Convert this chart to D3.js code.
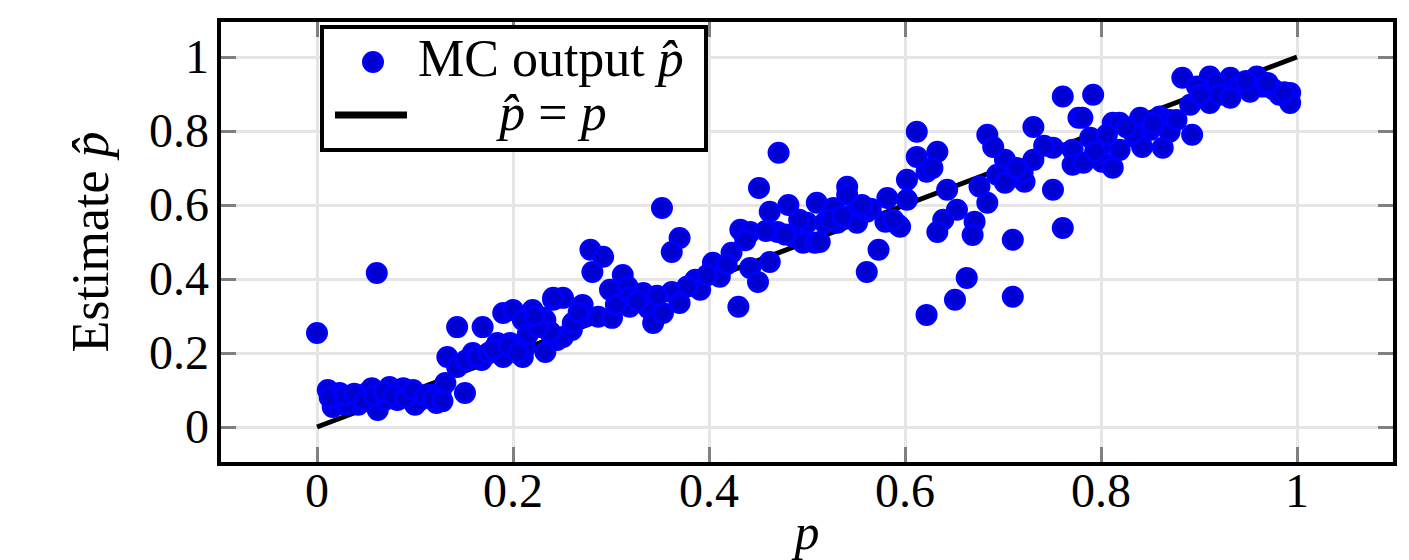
<!DOCTYPE html>
<html>
<head>
<meta charset="utf-8">
<script src="https://cdn.jsdelivr.net/npm/d3@7"></script>
<style>
  body { margin: 0; background: #fff; }
  text { font-family: 'Liberation Serif', 'DejaVu Serif', serif; fill: #000; }
</style>
</head>
<body>
<div id="my_dataviz"></div>
<script>
// MC estimates: true p and estimate p-hat
const pValues = [
  0.000, 0.061, 0.011, 0.016, 0.023, 0.034, 0.051, 0.062, 0.074, 0.082,
  0.095, 0.105, 0.122, 0.126, 0.042, 0.029, 0.131, 0.151, 0.133, 0.143,
  0.159, 0.168, 0.143, 0.169, 0.184, 0.190, 0.204, 0.210, 0.190, 0.200,
  0.220, 0.231, 0.210, 0.241, 0.233, 0.245, 0.212, 0.197, 0.238, 0.251,
  0.260, 0.273, 0.271, 0.251, 0.241, 0.231, 0.287, 0.279, 0.292, 0.281,
  0.299, 0.312, 0.317, 0.333, 0.322, 0.338, 0.343, 0.353, 0.301, 0.352,
  0.370, 0.362, 0.362, 0.370, 0.386, 0.391, 0.404, 0.411, 0.423, 0.432,
  0.430, 0.442, 0.442, 0.450, 0.451, 0.471, 0.462, 0.481, 0.470, 0.486,
  0.462, 0.496, 0.508, 0.500, 0.510, 0.513, 0.518, 0.527, 0.531, 0.541,
  0.541, 0.549, 0.551, 0.561, 0.573, 0.561, 0.580, 0.582, 0.593, 0.602,
  0.602, 0.612, 0.612, 0.622, 0.633, 0.639, 0.643, 0.653, 0.633, 0.671,
  0.669, 0.684, 0.684, 0.690, 0.702, 0.694, 0.702, 0.722, 0.720, 0.731,
  0.731, 0.751, 0.751, 0.771, 0.771, 0.761, 0.777, 0.761, 0.710, 0.622,
  0.651, 0.663, 0.710, 0.595, 0.792, 0.781, 0.812, 0.840, 0.860, 0.870,
  0.870, 0.850, 0.835, 0.893, 0.863, 0.842, 0.801, 0.789, 0.782, 0.801,
  0.812, 0.883, 0.911, 0.932, 0.959, 0.898, 0.918, 0.942, 0.965, 0.976,
  0.993, 0.993, 0.891, 0.911, 0.819, 0.833, 0.018, 0.046, 0.069, 0.088,
  0.100, 0.115, 0.056, 0.921, 0.952, 0.982, 0.901, 0.932, 0.819, 0.794,
  0.233, 0.238, 0.261, 0.319, 0.319, 0.437, 0.478, 0.524, 0.565, 0.628,
  0.013, 0.028, 0.038, 0.048, 0.058, 0.068, 0.078, 0.090, 0.098, 0.110,
  0.118, 0.128, 0.152, 0.163, 0.175, 0.180, 0.195, 0.205, 0.215, 0.225,
  0.222, 0.267, 0.305, 0.327, 0.347, 0.378, 0.398, 0.418, 0.458, 0.492,
  0.536, 0.556, 0.588, 0.676, 0.714, 0.742, 0.806, 0.826, 0.853, 0.877,
  0.948, 0.970, 0.987
];
const estValues = [
  0.254, 0.416, 0.100, 0.054, 0.092, 0.073, 0.092, 0.046, 0.108, 0.073,
  0.092, 0.073, 0.065, 0.092, 0.060, 0.060, 0.119, 0.092, 0.189, 0.162,
  0.200, 0.181, 0.270, 0.270, 0.227, 0.189, 0.216, 0.189, 0.308, 0.316,
  0.316, 0.289, 0.289, 0.344, 0.203, 0.235, 0.214, 0.227, 0.254, 0.243,
  0.262, 0.298, 0.330, 0.349, 0.349, 0.295, 0.298, 0.479, 0.460, 0.419,
  0.371, 0.411, 0.379, 0.362, 0.335, 0.322, 0.281, 0.308, 0.295, 0.592,
  0.511, 0.473, 0.365, 0.335, 0.398, 0.371, 0.444, 0.406, 0.471, 0.533,
  0.325, 0.527, 0.430, 0.392, 0.646, 0.741, 0.582, 0.600, 0.527, 0.514,
  0.446, 0.498, 0.498, 0.552, 0.606, 0.500, 0.552, 0.592, 0.552, 0.649,
  0.628, 0.579, 0.552, 0.582, 0.479, 0.419, 0.555, 0.619, 0.546, 0.614,
  0.668, 0.730, 0.798, 0.690, 0.744, 0.560, 0.641, 0.587, 0.527, 0.555,
  0.519, 0.606, 0.790, 0.757, 0.722, 0.682, 0.660, 0.663, 0.687, 0.811,
  0.722, 0.755, 0.641, 0.749, 0.709, 0.893, 0.836, 0.538, 0.506, 0.303,
  0.344, 0.403, 0.352, 0.541, 0.898, 0.836, 0.822, 0.836, 0.839, 0.830,
  0.798, 0.803, 0.784, 0.790, 0.755, 0.757, 0.763, 0.782, 0.714, 0.717,
  0.701, 0.944, 0.947, 0.944, 0.947, 0.920, 0.930, 0.925, 0.920, 0.912,
  0.903, 0.876, 0.871, 0.876, 0.822, 0.795, 0.078, 0.078, 0.073, 0.105,
  0.060, 0.087, 0.105, 0.898, 0.906, 0.898, 0.898, 0.890, 0.749, 0.744,
  0.289, 0.257, 0.281, 0.352, 0.325, 0.505, 0.520, 0.560, 0.590, 0.700,
  0.080, 0.085, 0.090, 0.070, 0.085, 0.095, 0.085, 0.080, 0.100, 0.085,
  0.075, 0.070, 0.180, 0.190, 0.200, 0.210, 0.220, 0.200, 0.250, 0.270,
  0.300, 0.310, 0.330, 0.340, 0.355, 0.380, 0.410, 0.440, 0.530, 0.560,
  0.570, 0.600, 0.560, 0.650, 0.700, 0.760, 0.790, 0.810, 0.820, 0.830,
  0.935, 0.930, 0.905
];

// reference line p-hat = p
const refLineP = [0, 1];
const refLineEst = [0, 1];

const xTicks = [0, 0.2, 0.4, 0.6, 0.8, 1];
const yTicks = [0, 0.2, 0.4, 0.6, 0.8, 1];
const xTickLabels = ['0', '0.2', '0.4', '0.6', '0.8', '1'];
const yTickLabels = ['0', '0.2', '0.4', '0.6', '0.8', '1'];

const width = 1409, height = 560;
const margin = { top: 20, right: 14, bottom: 96, left: 219 };
const innerW = width - margin.left - margin.right;
const innerH = height - margin.top - margin.bottom;

const svg = d3.select('#my_dataviz')
  .append('svg')
  .attr('width', width)
  .attr('height', height);

const g = svg.append('g')
  .attr('transform', 'translate(' + margin.left + ',' + margin.top + ')');

const x = d3.scaleLinear().domain([-0.1, 1.1]).range([0, innerW]);
const y = d3.scaleLinear().domain([-0.1, 1.1]).range([innerH, 0]);

// grid
g.append('g')
  .call(d3.axisBottom(x).tickValues(xTicks).tickSize(innerH).tickFormat(''))
  .call(s => s.select('.domain').remove())
  .selectAll('line').attr('stroke', '#e5e5e5').attr('stroke-width', 3);
g.append('g')
  .call(d3.axisLeft(y).tickValues(yTicks).tickSize(-innerW).tickFormat(''))
  .call(s => s.select('.domain').remove())
  .selectAll('line').attr('stroke', '#e5e5e5').attr('stroke-width', 3);

// small ticks on all four sides, pointing inward
const tickLen = 17;
const tickStyle = sel => sel.call(s => s.select('.domain').remove())
  .selectAll('line').attr('stroke', '#808080').attr('stroke-width', 3);
g.append('g').attr('transform', 'translate(0,' + innerH + ')')
  .call(d3.axisBottom(x).tickValues(xTicks).tickSize(-tickLen).tickFormat('')).call(tickStyle);
g.append('g')
  .call(d3.axisTop(x).tickValues(xTicks).tickSize(-tickLen).tickFormat('')).call(tickStyle);
g.append('g')
  .call(d3.axisLeft(y).tickValues(yTicks).tickSize(-tickLen).tickFormat('')).call(tickStyle);
g.append('g').attr('transform', 'translate(' + innerW + ',0)')
  .call(d3.axisRight(y).tickValues(yTicks).tickSize(-tickLen).tickFormat('')).call(tickStyle);

// tick labels
const fs = 48;
g.append('g').selectAll('text')
  .data(xTicks)
  .enter()
  .append('text')
  .attr('x', d => x(d))
  .attr('y', innerH + 43)
  .attr('text-anchor', 'middle')
  .style('font-size', fs + 'px')
  .text((d, i) => xTickLabels[i]);
g.append('g').selectAll('text')
  .data(yTicks)
  .enter()
  .append('text')
  .attr('x', -10)
  .attr('y', d => y(d) + 16)
  .attr('text-anchor', 'end')
  .style('font-size', fs + 'px')
  .text((d, i) => yTickLabels[i]);

// axis titles
svg.append('text')
  .attr('x', margin.left + x(0.5))
  .attr('y', 549)
  .attr('text-anchor', 'middle')
  .style('font-size', '50px')
  .style('font-style', 'italic')
  .text('p');
svg.append('text')
  .attr('transform', 'translate(108,' + (margin.top + innerH / 2) + ') rotate(-90)')
  .attr('text-anchor', 'middle')
  .style('font-size', '52px')
  .text('Estimate ')
  .append('tspan')
  .style('font-style', 'italic')
  .text('p\u0302');

g.append('clipPath').attr('id', 'plotClip')
  .append('rect').attr('width', innerW).attr('height', innerH);

const plot = g.append('g').attr('clip-path', 'url(#plotClip)');

// reference line
plot.append('path')
  .datum(refLineP.map((p, i) => [p, refLineEst[i]]))
  .attr('fill', 'none')
  .attr('stroke', '#000')
  .attr('stroke-width', 5)
  .attr('d', d3.line().x(d => x(d[0])).y(d => y(d[1])));

// scatter points
const markerR = 9.5;
plot.append('g')
  .selectAll('circle')
  .data(pValues.map((p, i) => ({ p: p, est: estValues[i] })))
  .enter()
  .append('circle')
  .attr('cx', d => x(d.p))
  .attr('cy', d => y(d.est))
  .attr('r', markerR)
  .attr('fill', '#0000d0')
  .attr('stroke', '#0000ff')
  .attr('stroke-width', 3);

// frame
g.append('rect')
  .attr('width', innerW)
  .attr('height', innerH)
  .attr('fill', 'none')
  .attr('stroke', '#000')
  .attr('stroke-width', 4);

// legend
const legend = svg.append('g').attr('transform', 'translate(322,27)');
legend.append('rect')
  .attr('width', 384)
  .attr('height', 123)
  .attr('fill', '#fff')
  .attr('stroke', '#000')
  .attr('stroke-width', 4);
legend.append('circle')
  .attr('cx', 51).attr('cy', 35).attr('r', markerR)
  .attr('fill', '#0000d0').attr('stroke', '#0000ff').attr('stroke-width', 3);
legend.append('line')
  .attr('x1', 13).attr('x2', 85).attr('y1', 88).attr('y2', 88)
  .attr('stroke', '#000').attr('stroke-width', 7);
legend.append('text')
  .attr('x', 96).attr('y', 49)
  .style('font-size', '52px')
  .text('MC output ')
  .append('tspan').style('font-style', 'italic').text('p\u0302');
const eqText = legend.append('text')
  .attr('x', 231).attr('y', 103)
  .attr('text-anchor', 'middle')
  .style('font-size', '52px');
eqText.append('tspan').style('font-style', 'italic').text('p\u0302');
eqText.append('tspan').text(' = ');
eqText.append('tspan').style('font-style', 'italic').text('p');
</script>
</body>
</html>
